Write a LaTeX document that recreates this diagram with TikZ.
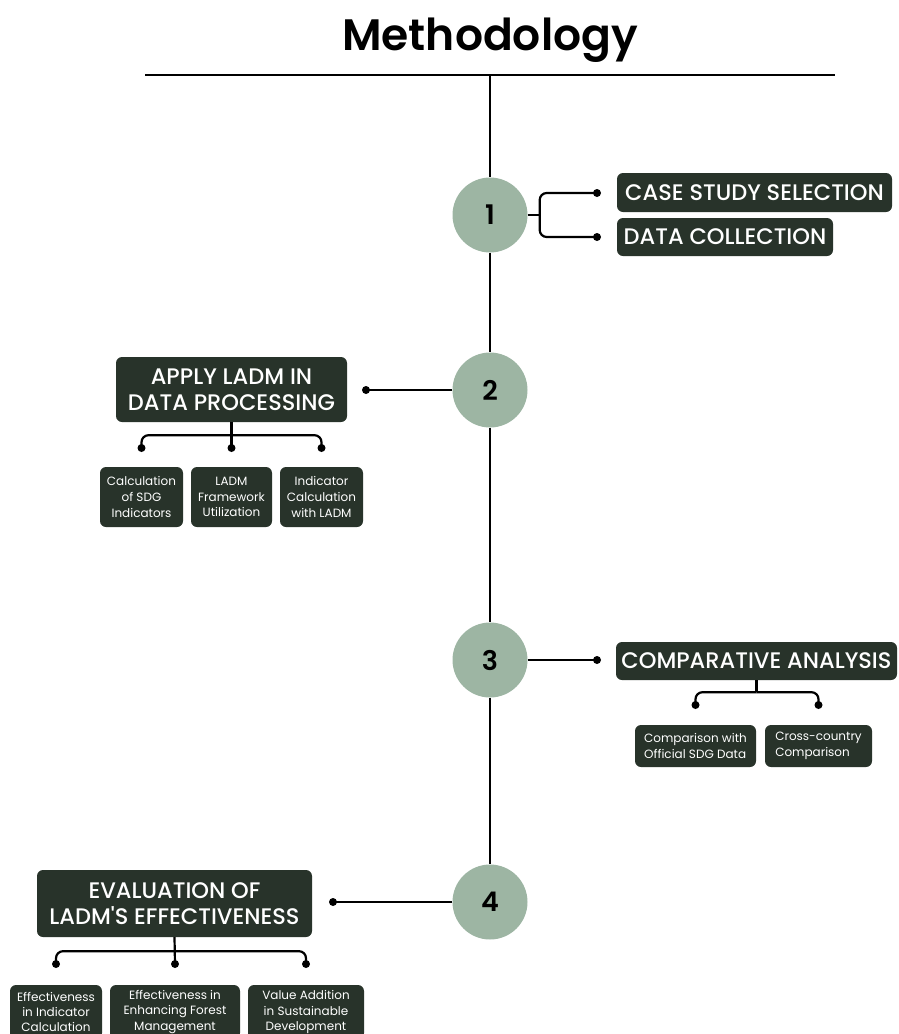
\documentclass[tikz,border=0pt]{standalone}
\usepackage{fontspec}
\setmainfont{Poppins}
\newfontfamily\headfont{Poppins Medium}
\newfontfamily\titlefont{Poppins SemiBold}
\definecolor{boxdark}{RGB}{40,51,42}
\definecolor{sage}{RGB}{157,181,163}
\begin{document}
\begin{tikzpicture}[x=1pt,y=-1pt,
  conn/.style={line width=2.2pt,black},
  bendline/.style={conn,rounded corners=7pt},
  stepcircle/.style={circle,fill=sage,minimum size=75pt,inner sep=0pt,font=\titlefont\fontsize{27}{30}\selectfont},
  headbox/.style={rectangle,rounded corners=6pt,fill=boxdark,text=white,inner sep=0pt,align=center,font=\headfont\fontsize{22.5}{26}\selectfont},
  subbox/.style={rectangle,rounded corners=6pt,fill=boxdark,text=white,inner sep=0pt,align=center,font=\fontsize{12}{15.7}\selectfont},
  dotmark/.style={fill=black}]
\useasboundingbox (0,0) rectangle (899,1034);
\clip (0,0) rectangle (899,1034);
% title and rule
\node[anchor=base,font=\titlefont\fontsize{44}{50}\selectfont] (title) at (490,50) {Methodology};
\coordinate (rl) at (145,75);
\coordinate (rr) at (835,75);
\coordinate (rtop) at (490,75);
\draw[conn] (rl) -- (rr);
% circles
\node[stepcircle] (c1) at (490,215) {1};
\node[stepcircle] (c2) at (490,390) {2};
\node[stepcircle] (c3) at (490,660) {3};
\node[stepcircle] (c4) at (490,902) {4};
\draw[conn] (rtop) -- (c1.north);
\draw[conn] (c1.south) -- (c2.north);
\draw[conn] (c2.south) -- (c3.north);
\draw[conn] (c3.south) -- (c4.north);
% step 1
\node[headbox,minimum width=275pt,minimum height=39pt] (b1a) at (754.5,192.5) {CASE STUDY SELECTION};
\node[headbox,minimum width=216pt,minimum height=38pt] (b1b) at (725,237) {DATA COLLECTION};
\coordinate (d1a) at (597,193);
\coordinate (d1b) at (597,237);
\draw[conn] (c1.east) -- ++(12,0) coordinate (j1);
\draw[bendline] (j1) |- (d1a);
\draw[bendline] (j1) |- (d1b);
\fill[dotmark] (d1a) circle (4pt);
\fill[dotmark] (d1b) circle (4pt);
% step 2
\node[headbox,minimum width=231pt,minimum height=65pt] (b2) at (231.5,389.5) {APPLY LADM IN\\DATA PROCESSING};
\coordinate (d2) at (366,390);
\draw[conn] (c2.west) -- (d2);
\fill[dotmark] (d2) circle (4pt);
\node[subbox,minimum width=83pt,minimum height=60pt] (b2a) at (141.5,497) {Calculation\\of SDG\\Indicators};
\node[subbox,minimum width=81pt,minimum height=60pt] (b2b) at (231.5,497) {LADM\\Framework\\Utilization};
\node[subbox,minimum width=83pt,minimum height=60pt] (b2c) at (321.5,497) {Indicator\\Calculation\\with LADM};
\coordinate (d2a) at (141.5,448);
\coordinate (d2b) at (231.5,448);
\coordinate (d2c) at (321.5,448);
\draw[conn] (b2.south) -- (d2b);
\path (b2.south) ++(0,13) coordinate (j2);
\draw[bendline] (j2) -| (d2a);
\draw[bendline] (j2) -| (d2c);
\foreach \d in {d2a,d2b,d2c} \fill[dotmark] (\d) circle (4pt);
% step 3
\node[headbox,minimum width=281pt,minimum height=38pt] (b3) at (756.5,661) {COMPARATIVE ANALYSIS};
\coordinate (d3) at (597,660);
\draw[conn] (c3.east) -- (d3);
\fill[dotmark] (d3) circle (4pt);
\node[subbox,align=left,minimum width=121pt,minimum height=42pt] (b3a) at (695.5,746) {Comparison with\\Official SDG Data};
\node[subbox,align=left,minimum width=107pt,minimum height=42pt] (b3b) at (818.5,746) {Cross-country\\Comparison};
\coordinate (d3a) at (695.5,705);
\coordinate (d3b) at (818.5,705);
\draw[conn] (b3.south) -- ++(0,12) coordinate (j3);
\draw[bendline] (j3) -| (d3a);
\draw[bendline] (j3) -| (d3b);
\fill[dotmark] (d3a) circle (4pt);
\fill[dotmark] (d3b) circle (4pt);
% step 4
\node[headbox,minimum width=275pt,minimum height=67pt] (b4) at (174.5,903.5) {EVALUATION OF\\LADM'S EFFECTIVENESS};
\coordinate (d4) at (333,902);
\draw[conn] (c4.west) -- (d4);
\fill[dotmark] (d4) circle (4pt);
\node[subbox,minimum width=92pt,minimum height=54pt,font=\fontsize{12}{15.2}\selectfont] (b4a) at (56,1012) {Effectiveness\\in Indicator\\Calculation};
\node[subbox,minimum width=130pt,minimum height=54pt,font=\fontsize{12}{15.2}\selectfont] (b4b) at (175,1012) {Effectiveness in\\Enhancing Forest\\Management};
\node[subbox,minimum width=116pt,minimum height=54pt,font=\fontsize{12}{15.2}\selectfont] (b4c) at (306,1012) {Value Addition\\in Sustainable\\Development};
\coordinate (d4a) at (56,964);
\coordinate (d4b) at (175,964);
\coordinate (d4c) at (306,964);
\draw[conn] (b4.south) -- (d4b);
\path (b4.south) ++(0,14) coordinate (j4);
\draw[bendline] (j4) -| (d4a);
\draw[bendline] (j4) -| (d4c);
\foreach \d in {d4a,d4b,d4c} \fill[dotmark] (\d) circle (4pt);
\end{tikzpicture}
\end{document}
